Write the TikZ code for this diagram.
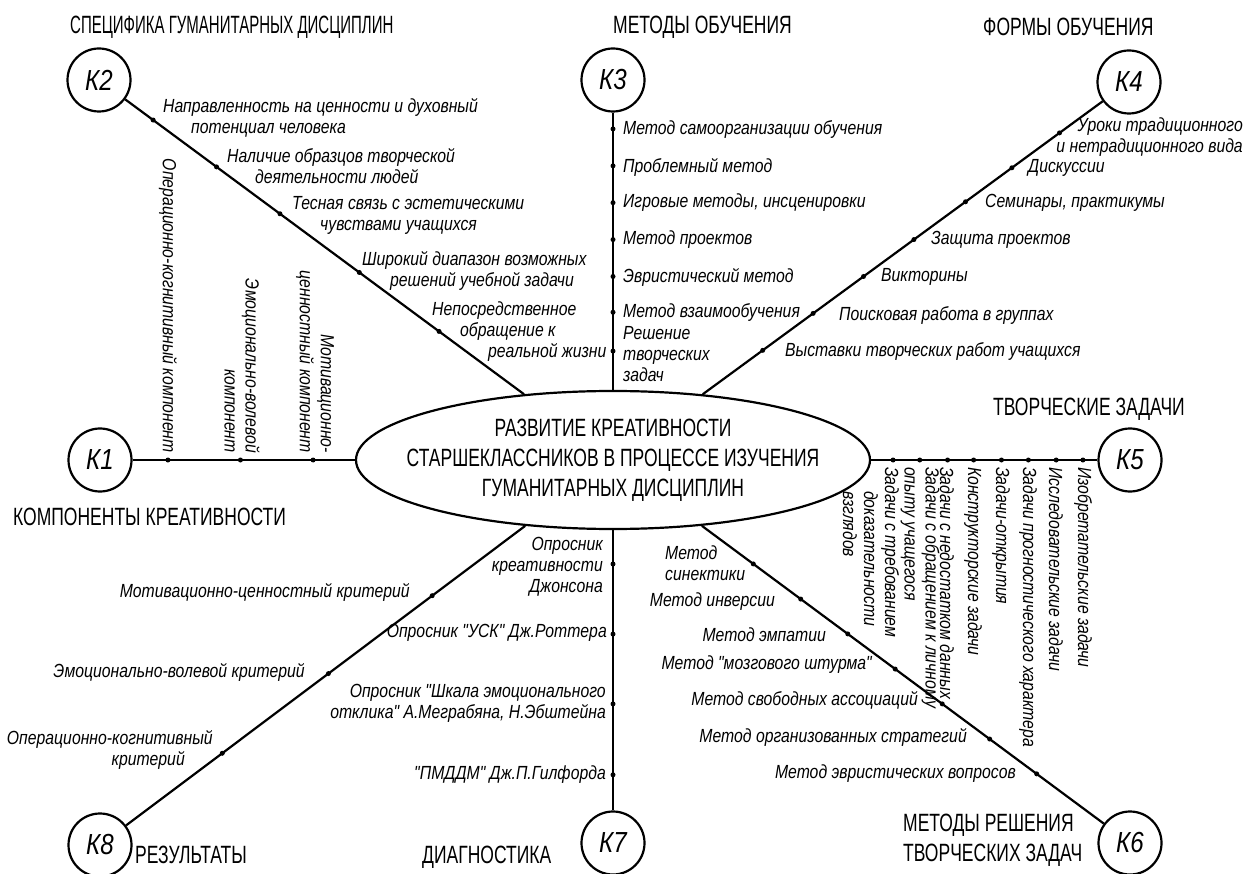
\documentclass[tikz,border=0pt]{standalone}
\usepackage{fontspec}
\usepackage{tikz}
\usetikzlibrary{shapes.geometric}

\newfontfamily\gostfont{Liberation Sans}[FakeStretch=0.83]
\newfontfamily\gostnarrow{Liberation Sans}[FakeStretch=0.7]
\newfontfamily\gostnarrower{Liberation Sans}[FakeStretch=0.6]
\newcommand{\lblfont}{\gostfont\itshape\fontsize{19}{21}\selectfont}
\newcommand{\headfont}{\gostnarrow\fontsize{25}{30}\selectfont}
\newcommand{\kfont}{\gostfont\itshape\fontsize{29}{30}\selectfont}
\newcommand{\shiftln}{\hspace*{28pt}}

\tikzset{
  kcirc/.style = {draw, circle, line width=2.2pt, minimum size=63pt, inner sep=0pt, font=\kfont},
  spoke/.style = {line width=2.2pt},
  bead/.style = {circle, fill, inner sep=0pt, minimum size=5pt},
  lbl/.style = {font=\lblfont, inner sep=0pt},
  head/.style = {font=\headfont, inner sep=0pt, anchor=west}
}

\begin{document}
\begin{tikzpicture}[x=1pt, y=-1pt]
    \useasboundingbox (0,0) rectangle (1245,874);

    \node[draw, ellipse, line width=2.2pt, minimum width=514pt, minimum height=138pt, inner sep=0pt] (c) at (613,460) {};
    \node[align=center, font=\headfont, inner sep=0pt] (ctext) at (c) {РАЗВИТИЕ КРЕАТИВНОСТИ\\СТАРШЕКЛАССНИКОВ В ПРОЦЕССЕ ИЗУЧЕНИЯ\\ГУМАНИТАРНЫХ ДИСЦИПЛИН};

    \node[kcirc] (k1) at (100,460) {К1};
    \node[kcirc] (k2) at (99,80) {К2};
    \node[kcirc] (k3) at (613,80) {К3};
    \node[kcirc] (k4) at (1129,82) {К4};
    \node[kcirc] (k5) at (1130,460) {К5};
    \node[kcirc] (k6) at (1130,843) {К6};
    \node[kcirc] (k7) at (613,843) {К7};
    \node[kcirc] (k8) at (100,845) {К8};

    \draw[spoke] (k1) -- (c)
        node[bead, pos=.159] (d11) {}
        node[bead, pos=.485] (d12) {}
        node[bead, pos=.812] (d13) {};
    \draw[spoke] (k2) -- (c)
        node[bead, pos=.070] (d21) {}
        node[bead, pos=.229] (d22) {}
        node[bead, pos=.388] (d23) {}
        node[bead, pos=.587] (d24) {}
        node[bead, pos=.787] (d25) {};
    \draw[spoke] (k3) -- (c)
        node[bead, pos=.059] (d31) {}
        node[bead, pos=.192] (d32) {}
        node[bead, pos=.325] (d33) {}
        node[bead, pos=.458] (d34) {}
        node[bead, pos=.591] (d35) {}
        node[bead, pos=.720] (d36) {}
        node[bead, pos=.860] (d37) {};
    \draw[spoke] (k4) -- (c)
        node[bead, pos=.108] (d41) {}
        node[bead, pos=.227] (d42) {}
        node[bead, pos=.343] (d43) {}
        node[bead, pos=.472] (d44) {}
        node[bead, pos=.598] (d45) {}
        node[bead, pos=.724] (d46) {}
        node[bead, pos=.850] (d47) {};
    \draw[spoke] (c) -- (k5)
        node[bead, pos=.097] (d58) {}
        node[bead, pos=.215] (d57) {}
        node[bead, pos=.338] (d56) {}
        node[bead, pos=.453] (d55) {}
        node[bead, pos=.576] (d54) {}
        node[bead, pos=.695] (d53) {}
        node[bead, pos=.818] (d52) {}
        node[bead, pos=.936] (d51) {};
    \draw[spoke] (c) -- (k6)
        node[bead, pos=.128] (d61) {}
        node[bead, pos=.246] (d62) {}
        node[bead, pos=.363] (d63) {}
        node[bead, pos=.481] (d64) {}
        node[bead, pos=.598] (d65) {}
        node[bead, pos=.716] (d66) {}
        node[bead, pos=.833] (d67) {};
    \draw[spoke] (c) -- (k7)
        node[bead, pos=.121] (d71) {}
        node[bead, pos=.371] (d72) {}
        node[bead, pos=.620] (d73) {}
        node[bead, pos=.873] (d74) {};
    \draw[spoke] (c) -- (k8)
        node[bead, pos=.233] (d81) {}
        node[bead, pos=.493] (d82) {}
        node[bead, pos=.759] (d83) {};

    \node[head] (h1) at (13,517) {КОМПОНЕНТЫ КРЕАТИВНОСТИ};
    \node[head, font=\gostnarrower\fontsize{25}{30}\selectfont] (h2) at (70,27) {СПЕЦИФИКА ГУМАНИТАРНЫХ ДИСЦИПЛИН};
    \node[head] (h3) at (613,27) {МЕТОДЫ ОБУЧЕНИЯ};
    \node[head] (h4) at (983,27) {ФОРМЫ ОБУЧЕНИЯ};
    \node[head] (h5) at (993,409) {ТВОРЧЕСКИЕ ЗАДАЧИ};
    \node[head, align=left] (h6) at (903,840) {МЕТОДЫ РЕШЕНИЯ\\ТВОРЧЕСКИХ ЗАДАЧ};
    \node[head] (h7) at (422,857) {ДИАГНОСТИКА};
    \node[head] (h8) at (135,855) {РЕЗУЛЬТАТЫ};

    \node[lbl, rotate=-90, anchor=east] (l11) at (168,453) {Операционно-когнитивный компонент};
    \node[lbl, rotate=-90, anchor=east, align=right] (l12) at (242,453) {Эмоционально-волевой\\компонент};
    \node[lbl, rotate=-90, anchor=east, align=right] (l13) at (315,453) {Мотивационно-\\ценностный компонент};

    \node[lbl, anchor=west, align=left] (l21) at (163,118) {Направленность на ценности и духовный\\\shiftln потенциал человека};
    \node[lbl, anchor=west, align=left] (l22) at (227,166) {Наличие образцов творческой\\\shiftln деятельности людей};
    \node[lbl, anchor=west, align=left] (l23) at (292,215) {Тесная связь с эстетическими\\\shiftln чувствами учащихся};
    \node[lbl, anchor=west, align=left] (l24) at (362,271) {Широкий диапазон возможных\\\shiftln решений учебной задачи};
    \node[lbl, anchor=west, align=left] (l25) at (432,332) {Непосредственное\\\shiftln обращение к\\\shiftln\shiftln реальной жизни};

    \node[lbl, anchor=west] (l31) at (623,130) {Метод самоорганизации обучения};
    \node[lbl, anchor=west] (l32) at (623,167) {Проблемный метод};
    \node[lbl, anchor=west] (l33) at (623,203) {Игровые методы, инсценировки};
    \node[lbl, anchor=west] (l34) at (623,240) {Метод проектов};
    \node[lbl, anchor=west] (l35) at (623,277) {Эвристический метод};
    \node[lbl, anchor=west] (l36) at (623,313) {Метод взаимообучения};
    \node[lbl, anchor=west, align=left] (l37) at (623,354) {Решение\\творческих\\задач};

    \node[lbl, anchor=east, align=right] (l41) at (1243,137) {Уроки традиционного\\и нетрадиционного вида};
    \node[lbl, anchor=west] (l42) at (1028,168) {Дискуссии};
    \node[lbl, anchor=west] (l43) at (985,203) {Семинары, практикумы};
    \node[lbl, anchor=west] (l44) at (931,240) {Защита проектов};
    \node[lbl, anchor=west] (l45) at (881,277) {Викторины};
    \node[lbl, anchor=west] (l46) at (839,316) {Поисковая работа в группах};
    \node[lbl, anchor=west] (l47) at (785,352) {Выставки творческих работ учащихся};

    \node[lbl, rotate=-90, anchor=west] (l51) at (1083,467) {Изобретательские задачи};
    \node[lbl, rotate=-90, anchor=west] (l52) at (1056,467) {Исследовательские задачи};
    \node[lbl, rotate=-90, anchor=west] (l53) at (1028,467) {Задачи прогностического характера};
    \node[lbl, rotate=-90, anchor=west] (l54) at (1001,467) {Задачи-открытия};
    \node[lbl, rotate=-90, anchor=west] (l55) at (973,467) {Конструкторские задачи};
    \node[lbl, rotate=-90, anchor=west] (l56) at (947,467) {Задачи с недостатком данных};
    \node[lbl, rotate=-90, anchor=west, align=left] (l57) at (920,467) {Задачи с обращением к личному\\опыту учащегося};
    \node[lbl, rotate=-90, anchor=west, align=left] (l58) at (871,467) {Задачи с требованием\\\hspace*{24pt}доказательности\\\hspace*{24pt}взглядов};

    \node[lbl, anchor=west, align=left] (l61) at (665,563) {Метод\\синектики};
    \node[lbl, anchor=east] (l62) at (775,602) {Метод инверсии};
    \node[lbl, anchor=east] (l63) at (826,635) {Метод эмпатии};
    \node[lbl, anchor=east] (l64) at (872,665) {Метод "мозгового штурма"};
    \node[lbl, anchor=east] (l65) at (918,700) {Метод свободных ассоциаций};
    \node[lbl, anchor=east] (l66) at (967,737) {Метод организованных стратегий};
    \node[lbl, anchor=east] (l67) at (1016,774) {Метод эвристических вопросов};

    \node[lbl, anchor=east, align=right] (l71) at (603,567) {Опросник\\креативности\\Джонсона};
    \node[lbl, anchor=east] (l72) at (607,633) {Опросник "УСК" Дж.Роттера};
    \node[lbl, anchor=east, align=right] (l73) at (606,703) {Опросник "Шкала эмоционального\\отклика" А.Меграбяна, Н.Эбштейна};
    \node[lbl, anchor=east] (l74) at (606,775) {"ПМДДМ" Дж.П.Гилфорда};

    \node[lbl, anchor=east] (l81) at (410,592) {Мотивационно-ценностный критерий};
    \node[lbl, anchor=east] (l82) at (305,672) {Эмоционально-волевой критерий};
    \node[lbl, anchor=east, align=right] (l83) at (213,750) {Операционно-когнитивный\\критерий\shiftln};
\end{tikzpicture}
\end{document}
